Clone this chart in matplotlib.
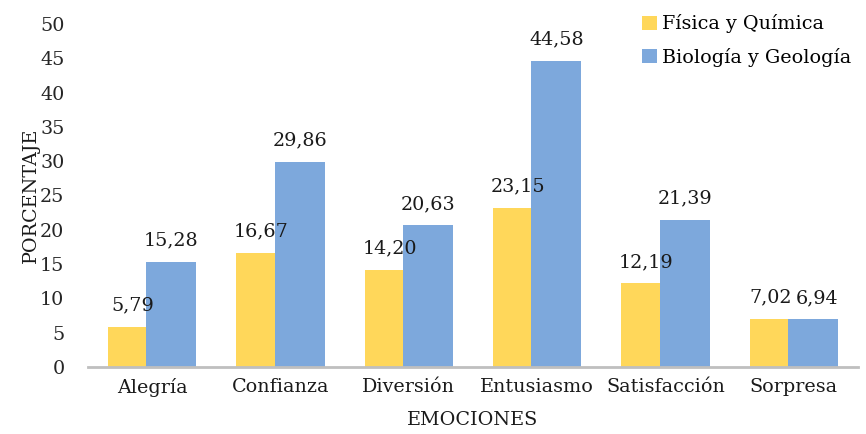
import matplotlib
matplotlib.use("Agg")
import matplotlib.pyplot as plt
import numpy as np

categories = ["Alegría", "Confianza", "Diversión", "Entusiasmo", "Satisfacción", "Sorpresa"]
fisica_quimica = [5.79, 16.67, 14.20, 23.15, 12.19, 7.02]
biologia_geologia = [15.28, 29.86, 20.63, 44.58, 21.39, 6.94]
series_names = ["Física y Química", "Biología y Geología"]
yticks = [0, 5, 10, 15, 20, 25, 30, 35, 40, 45, 50]

plt.rcParams['font.family'] = ['DejaVu Serif']
FS = 13.8

fig = plt.figure(figsize=(8.66, 4.34), dpi=100)
ax = fig.add_axes([88/866, 67/434, 770/866, 343/434])

x = np.arange(len(categories))
w = 0.39
off = 0.15
c1 = "#FFD75A"
c2 = "#7DA8DC"
b1 = ax.bar(x - off, fisica_quimica, w, color=c1, label=series_names[0], zorder=2)
b2 = ax.bar(x + off, biologia_geologia, w, color=c2, label=series_names[1], zorder=3)

def fmt(v):
    return f"{v:.2f}".replace(".", ",")

for i, (xi, v) in enumerate(zip(x - off, fisica_quimica)):
    dx = -3 if abs(v - biologia_geologia[i]) < 3 else 0
    ax.annotate(fmt(v), (xi, v), xytext=(dx, 9), textcoords="offset points",
                ha="center", va="bottom", fontsize=FS, color="#1a1a1a", zorder=5)
for i, (xi, v) in enumerate(zip(x + off, biologia_geologia)):
    dx = 3 if abs(v - fisica_quimica[i]) < 3 else 0
    ax.annotate(fmt(v), (xi, v), xytext=(dx, 9), textcoords="offset points",
                ha="center", va="bottom", fontsize=FS, color="#1a1a1a", zorder=5)

ax.set_xlim(-0.5, len(categories) - 0.5)
ax.set_ylim(0, 50)
ax.set_yticks(yticks)
ax.set_yticklabels([str(t) for t in yticks], fontsize=FS, color="#262626")
ax.set_xticks(x)
ax.set_xticklabels(categories, fontsize=FS, color="#1a1a1a")
ax.tick_params(axis="both", length=0)
ax.tick_params(axis="y", pad=17)
ax.tick_params(axis="x", pad=8)

for s in ["top", "right", "left"]:
    ax.spines[s].set_visible(False)
ax.spines["bottom"].set_color("#BFBFBF")
ax.spines["bottom"].set_linewidth(2)
ax.spines["bottom"].set_zorder(4)

ax.set_ylabel("PORCENTAJE", fontsize=FS, color="#1a1a1a", labelpad=0)
ax.set_xlabel("EMOCIONES", fontsize=FS, color="#1a1a1a", labelpad=10)

leg = fig.legend(handles=[b1, b2], labels=series_names, loc="upper right",
                 bbox_to_anchor=(1.0, 1.0), frameon=False, fontsize=FS,
                 handlelength=0.75, handleheight=0.75, handletextpad=0.3,
                 labelspacing=0.75, borderaxespad=0.35)

fig.savefig("out.png", dpi=100)
